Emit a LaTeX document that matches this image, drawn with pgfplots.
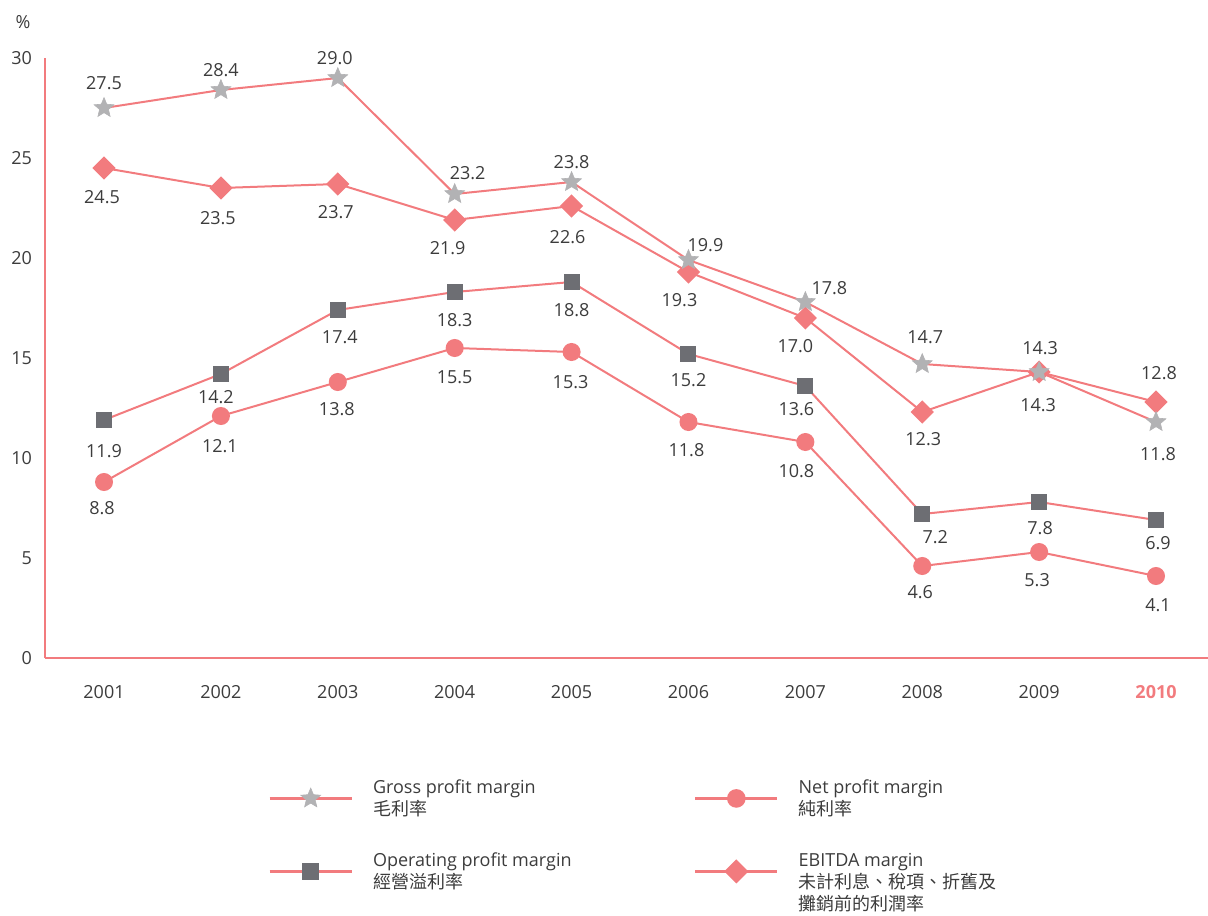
\documentclass[border=0pt]{standalone}
\usepackage{pgfplots}
\pgfplotsset{compat=1.18}
\usepackage{pgfplotstable}
\usepackage{fontspec}
\setmainfont{Open Sans}
\newfontfamily\cjk{Noto Sans CJK TC}
\definecolor{pinkline}{HTML}{F27B7E}
\definecolor{stargray}{HTML}{B2B2B4}
\definecolor{sqgray}{HTML}{6D6E73}
\definecolor{txt}{HTML}{3C3C3C}

\pgfdeclareplotmark{fstar}{%
  \pgfpathmoveto{\pgfpointpolar{90}{\pgfplotmarksize}}%
  \pgfpathlineto{\pgfpointpolar{126}{0.45\pgfplotmarksize}}%
  \pgfpathlineto{\pgfpointpolar{162}{\pgfplotmarksize}}%
  \pgfpathlineto{\pgfpointpolar{198}{0.45\pgfplotmarksize}}%
  \pgfpathlineto{\pgfpointpolar{234}{\pgfplotmarksize}}%
  \pgfpathlineto{\pgfpointpolar{270}{0.45\pgfplotmarksize}}%
  \pgfpathlineto{\pgfpointpolar{306}{\pgfplotmarksize}}%
  \pgfpathlineto{\pgfpointpolar{342}{0.45\pgfplotmarksize}}%
  \pgfpathlineto{\pgfpointpolar{18}{\pgfplotmarksize}}%
  \pgfpathlineto{\pgfpointpolar{54}{0.45\pgfplotmarksize}}%
  \pgfpathclose
  \pgfusepathqfillstroke}

\pgfplotstableread{
x y dx dy
2001 27.5 0 12.5
2002 28.4 0 10
2003 29.0 -1.5 10
2004 23.2 6.5 10.5
2005 23.8 0 10
2006 19.9 8.5 7.5
2007 17.8 12 7
2008 14.7 1.5 13.5
2009 14.3 0.5 12
2010 11.8 1 -16
}\gross
\pgfplotstableread{
x y dx dy
2001 24.5 -1 -14.5
2002 23.5 -1.5 -15
2003 23.7 -1 -14
2004 21.9 -3.5 -14
2005 22.6 -2 -15.5
2006 19.3 -4.5 -14
2007 17.0 -5 -14
2008 12.3 0.5 -13.5
2009 14.3 -0.5 -16.5
2010 12.8 1.5 14.5
}\ebitda
\pgfplotstableread{
x y dx dy
2001 11.9 0 -15.5
2002 14.2 -2.5 -11.5
2003 17.4 1 -13.5
2004 18.3 0 -14
2005 18.8 0 -14
2006 15.2 0 -13
2007 13.6 -4.5 -11.5
2008 7.2 6.5 -11.5
2009 7.8 0.5 -13
2010 6.9 1 -11.5
}\oper
\pgfplotstableread{
x y dx dy
2001 8.8 -1 -13
2002 12.1 -0.5 -15
2003 13.8 -0.5 -13.5
2004 15.5 0 -14.5
2005 15.3 -0.5 -15
2006 11.8 -1 -14
2007 10.8 -4.5 -14.5
2008 4.6 -1 -13
2009 5.3 -1 -14
2010 4.1 1 -14.5
}\net

\newcommand{\legtext}[1]{\begin{tabular}[t]{@{\hspace{10pt}}p{160.5pt}@{}}#1\end{tabular}}

\begin{document}
\begin{tikzpicture}
\useasboundingbox (-22.5pt,-128.5pt) rectangle (581.5pt,329pt);
\begin{axis}[
  scale only axis, width=581.5pt, height=300pt,
  xmin=2000.495, xmax=2010.445, ymin=0, ymax=30,
  axis lines*=left,
  axis line style={draw=pinkline, line width=0.6pt, -},
  xtick={2001,2002,2003,2004,2005,2006,2007,2008,2009,2010},
  xticklabels={2001,2002,2003,2004,2005,2006,2007,2008,2009,{\textbf{\textcolor{pinkline}{2010}}}},
  ytick={0,5,10,15,20,25,30},
  major tick length=0pt,
  tick label style={font=\fontsize{9}{11}\selectfont, text=txt},
  /pgf/number format/assume math mode=true,
  xticklabel style={yshift=-10pt},
  yticklabel style={xshift=-3pt},
  clip=false,
  every axis plot/.append style={line width=1pt, draw=pinkline},
  nodes near coords={\pgfmathprintnumber[fixed,fixed zerofill,precision=1]{\pgfplotspointmeta}},
  visualization depends on={\thisrow{dx} \as \mydx},
  visualization depends on={\thisrow{dy} \as \mydy},
  nodes near coords style={anchor=center, xshift=\mydx pt, yshift=\mydy pt, font=\fontsize{9}{11}\selectfont, text=txt},
  legend columns=2,
  legend cell align=left,
  legend image code/.code={\draw[mark repeat=2,mark phase=2,#1,line width=1.3pt] plot coordinates {(0pt,-2.5pt) (20.5pt,-2.5pt) (41pt,-2.5pt)};},
  legend style={draw=none, fill=none, inner sep=0pt, column sep=0pt, row sep=0pt,
    at={(axis description cs:0.19175,-0.2017)}, anchor=north west,
    font=\fontsize{9}{11}\selectfont, text=txt,
    cells={anchor=base west},
    nodes={inner sep=0pt, text height=7pt, text depth=29.5pt}},
]
\addplot[forget plot, mark=*, mark size=4pt, mark options={fill=pinkline, draw=pinkline}] table[x=x,y=y] {\net};
\addplot[forget plot, mark=square*, mark size=3.5pt, mark options={fill=sqgray, draw=sqgray}] table[x=x,y=y] {\oper};
\addplot[forget plot, mark=square*, mark size=3.6pt, mark options={fill=pinkline, draw=pinkline, rotate=45}] table[x=x,y=y] {\ebitda};
\addplot[forget plot, mark=fstar, mark size=5.2pt, mark options={fill=stargray, draw=stargray, line width=0.3pt}] table[x=x,y=y] {\gross};

\addlegendimage{draw=pinkline, mark=fstar, mark size=5.2pt, mark options={fill=stargray, draw=stargray, line width=0.3pt}}
\addlegendentry{\legtext{Gross profit margin\\ {\cjk 毛利率}}}
\addlegendimage{draw=pinkline, mark=*, mark size=4pt, mark options={fill=pinkline, draw=pinkline}}
\addlegendentry{\legtext{Net profit margin\\ {\cjk 純利率}}}
\addlegendimage{draw=pinkline, mark=square*, mark size=3.5pt, mark options={fill=sqgray, draw=sqgray}}
\addlegendentry{\legtext{Operating profit margin\\ {\cjk 經營溢利率}}}
\addlegendimage{draw=pinkline, mark=square*, mark size=3.6pt, mark options={fill=pinkline, draw=pinkline, rotate=45}}
\addlegendentry{\legtext{EBITDA margin\\ {\cjk 未計利息、稅項、折舊及}\\ {\cjk 攤銷前的利潤率}}}
\end{axis}
\node[font=\fontsize{9}{11}\selectfont, text=txt] at (-11pt,318pt) {\%};
\end{tikzpicture}
\end{document}
